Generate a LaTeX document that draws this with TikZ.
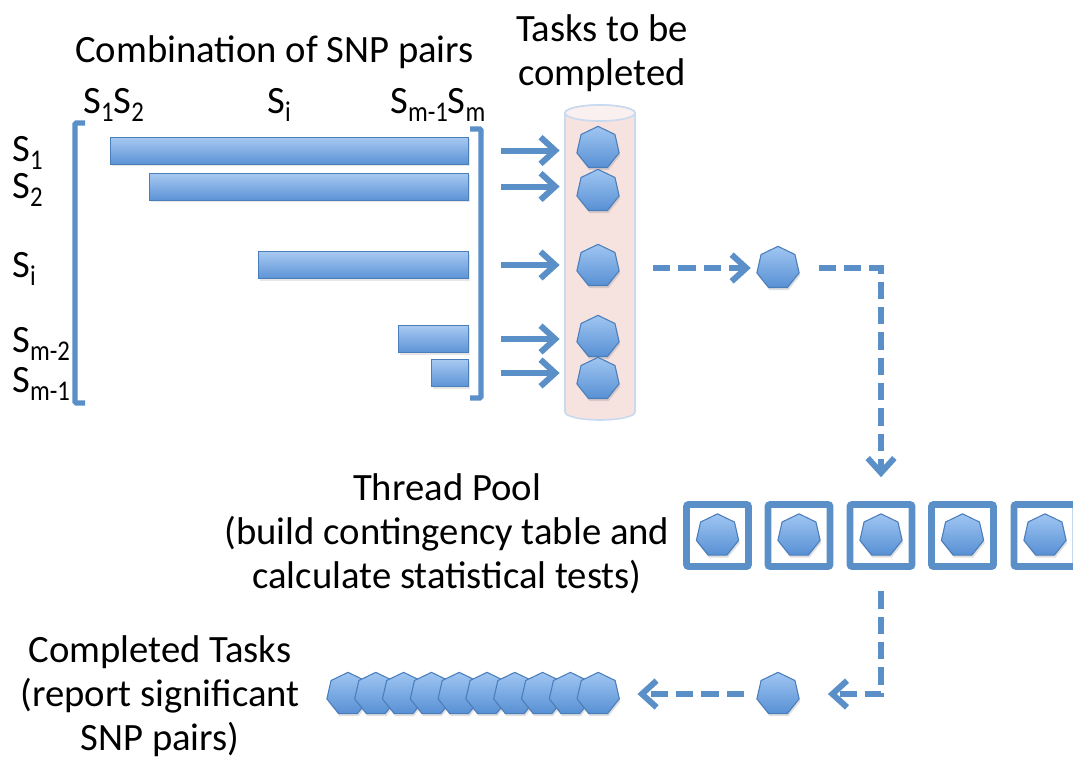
\documentclass[tikz,border=0pt]{standalone}
\usepackage{fontspec}
\setmainfont{Carlito}
\usetikzlibrary{arrows.meta,shapes.geometric,shadows}

\definecolor{lineblue}{RGB}{90,143,199}
\definecolor{taskline}{RGB}{74,126,187}
\definecolor{tasktop}{RGB}{160,198,242}
\definecolor{taskbot}{RGB}{88,144,212}
\definecolor{bartop}{RGB}{168,201,241}
\definecolor{barbot}{RGB}{92,147,214}
\definecolor{cylfill}{RGB}{246,226,223}
\definecolor{cylline}{RGB}{200,218,239}

\newcommand{\snp}[1]{S\raisebox{-0.22em}{\scalebox{0.64}[0.74]{#1}}}

\begin{document}
\begin{tikzpicture}[x=0.75pt,y=-0.75pt,>={Straight Barb[length=11pt,width=20pt]},
  font=\fontsize{29}{33}\selectfont,
  lbl/.style={anchor=base west,inner sep=0pt},
  task/.style={regular polygon,regular polygon sides=7,minimum size=32.5pt,inner sep=0pt,
    draw=taskline,line width=0.8pt,top color=tasktop,bottom color=taskbot,
    drop shadow={shadow xshift=0.8pt,shadow yshift=-2pt,opacity=0.25}},
  pair bar/.style={rectangle,draw=taskline,line width=0.6pt,top color=bartop,bottom color=barbot,
    minimum height=20.25pt,inner sep=0pt,anchor=east,
    drop shadow={shadow xshift=0.8pt,shadow yshift=-1.5pt,opacity=0.2}},
  slot/.style={rectangle,draw=lineblue,fill=white,line width=5pt,minimum size=46.5pt,rounded corners=1.5pt},
  flow/.style={->,draw=lineblue,line width=4.5pt},
  dflow/.style={flow,dash pattern=on 13pt off 6pt},
  bracket/.style={draw=lineblue,line width=4pt,rounded corners=1pt}]
  \useasboundingbox (0,0) rectangle (1073,758);

  % labels
  \node[lbl] (title) at (75,62) {Combination of SNP pairs};
  \node[align=center] (todo) at (602,53) {Tasks to be\\completed};
  \node[lbl] (col1) at (83,113) {\snp{1}\snp{2}};
  \node[lbl] (coli) at (267,113) {\snp{i}};
  \node[lbl] (colm) at (390,113) {\snp{m-1}\snp{m}};
  \node[lbl] (row1) at (12,161) {\snp{1}};
  \node[lbl] (row2) at (12,198) {\snp{2}};
  \node[lbl] (rowi) at (12,277) {\snp{i}};
  \node[lbl] (rowm2) at (12,352) {\snp{m-2}};
  \node[lbl] (rowm1) at (12,392) {\snp{m-1}};

  % matrix of pairs
  \draw[bracket] (85,123) -- (75,123) -- (75,403) -- (85,403);
  \draw[bracket] (470,129) -- (481,129) -- (481,398) -- (470,398);
  \node[pair bar,minimum width=268.5pt] (b1) at (469,150.5) {};
  \node[pair bar,minimum width=239.25pt] (b2) at (469,186.5) {};
  \node[pair bar,minimum width=157.5pt] (b3) at (469,265) {};
  \node[pair bar,minimum width=52.5pt] (b4) at (469,339) {};
  \node[pair bar,minimum width=27.75pt] (b5) at (469,373) {};

  % queue
  \coordinate (qtop) at (600,113);
  \coordinate (qbot) at (600,412);
  \filldraw[fill=cylfill,draw=cylline,line width=1.2pt]
    (565,113) -- (565,412) arc[start angle=180,end angle=360,x radius=26.25pt,y radius=6pt]
    -- (635,113) arc[start angle=0,end angle=180,x radius=26.25pt,y radius=6pt] -- cycle;
  \filldraw[fill=cylfill!50!white,draw=cylline,line width=1.2pt] (qtop) ellipse[x radius=26.25pt,y radius=6pt];
  \coordinate (queue) at (565,262);
  \node[task] (t1) at (598,148) {};
  \node[task] (t2) at (598,191) {};
  \node[task] (t3) at (598,266) {};
  \node[task] (t4) at (598,337) {};
  \node[task] (t5) at (598,379) {};
  \foreach \i in {1,...,5}
    \draw[flow] ([xshift=24pt]b\i.east) -- ([xshift=-4pt]b\i.east -| queue);

  % thread pool
  \node[task] (h1) at (778,268) {};
  \coordinate (d1) at (653,268);
  \draw[dflow] (d1) -- ([xshift=-5pt]h1.west);
  \foreach \i/\x in {1/717.5,2/799,3/881,4/962.5,5/1045}{
    \node[slot] (p\i) at (\x,535.5) {};
    \node[task] at (p\i) {};
  }
  \draw[dflow] ([xshift=15pt]h1.east) -| ([yshift=18pt]p3.north);
  \node[align=center] (pool) at (447,534) {Thread Pool\\(build contingency table and\\calculate statistical tests)};

  % completed tasks
  \node[task] (h2) at (778,694) {};
  \foreach \i in {0,...,9}
    \node[task] (c\i) at (348+27.8*\i,694) {};
  \draw[dflow] ([yshift=-16pt]p3.south) |- ([xshift=22pt]h2.east);
  \draw[dflow] ([xshift=-10pt]h2.west) -- ([xshift=14pt]c9.east);
  \node[align=center] (done) at (160,696) {Completed Tasks\\(report significant\\SNP pairs)};
\end{tikzpicture}
\end{document}
